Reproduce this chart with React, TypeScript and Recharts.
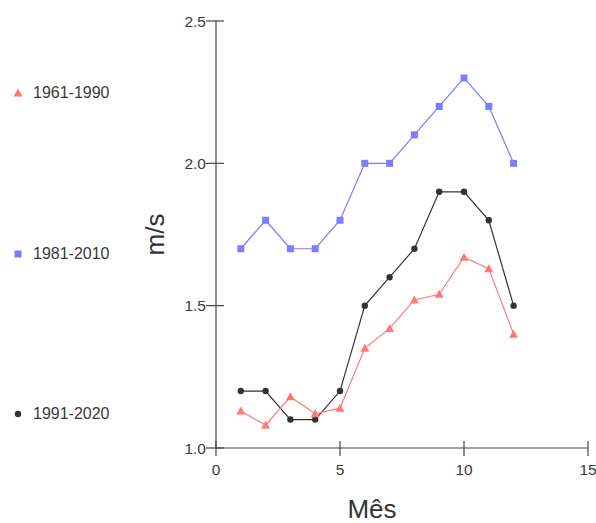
import React from "react";
import { LineChart, Line, XAxis, YAxis } from "recharts";

const months = [1, 2, 3, 4, 5, 6, 7, 8, 9, 10, 11, 12];
const s1961 = [1.13, 1.08, 1.18, 1.12, 1.14, 1.35, 1.42, 1.52, 1.54, 1.67, 1.63, 1.4];
const s1981 = [1.7, 1.8, 1.7, 1.7, 1.8, 2.0, 2.0, 2.1, 2.2, 2.3, 2.2, 2.0];
const s1991 = [1.2, 1.2, 1.1, 1.1, 1.2, 1.5, 1.6, 1.7, 1.9, 1.9, 1.8, 1.5];
const xTicks = [0, 5, 10, 15];
const yTicks = [1.0, 1.5, 2.0, 2.5];

const RED = "#ff7878";
const BLUE = "#7c7cff";
const DARK = "#333333";

const data = months.map((m, i) => ({
  mes: m,
  a: s1961[i],
  b: s1981[i],
  c: s1991[i],
}));

const Triangle = (props: any) => {
  const { cx, cy, index } = props;
  if (cx == null || cy == null) return null;
  return (
    <path
      key={`t-${index}`}
      d={`M${cx},${cy - 4.5} L${cx + 4.5},${cy + 3.5} L${cx - 4.5},${cy + 3.5} Z`}
      fill={RED}
    />
  );
};

const Square = (props: any) => {
  const { cx, cy, index } = props;
  if (cx == null || cy == null) return null;
  return <rect key={`s-${index}`} x={cx - 3.5} y={cy - 3.5} width={7} height={7} fill={BLUE} />;
};

const Circle = (props: any) => {
  const { cx, cy, index } = props;
  if (cx == null || cy == null) return null;
  return <circle key={`c-${index}`} cx={cx} cy={cy} r={3.2} fill={DARK} />;
};

const XTick = (props: any) => {
  const { x, y, payload } = props;
  return (
    <g>
      <line x1={x} x2={x} y1={y - 7} y2={y + 8} stroke="#444" strokeWidth={1.2} />
      <text x={x} y={y + 27} textAnchor="middle" fontSize={15.5} fill="#3a3a3a">
        {payload.value}
      </text>
    </g>
  );
};

const YTick = (props: any) => {
  const { x, y, payload } = props;
  return (
    <g>
      <line x1={x - 10} x2={x + 8} y1={y} y2={y} stroke="#444" strokeWidth={1.2} />
      <text x={x - 10} y={y + 5.5} textAnchor="end" fontSize={15.5} fill="#3a3a3a">
        {Number(payload.value).toFixed(1)}
      </text>
    </g>
  );
};

const legendItems = [
  { label: "1961-1990", top: 93, shape: "tri" },
  { label: "1981-2010", top: 254, shape: "sq" },
  { label: "1991-2020", top: 414, shape: "dot" },
];

export default function App() {
  return (
    <div
      style={{
        position: "absolute",
        left: 0,
        top: 0,
        width: 596,
        height: 523,
        background: "#fff",
        fontFamily: "'Liberation Sans', Arial, sans-serif",
      }}
    >
      <LineChart
        width={596}
        height={523}
        data={data}
        margin={{ top: 21, right: 8, left: 0, bottom: 0 }}
        style={{ fontFamily: "'Liberation Sans', Arial, sans-serif" }}
      >
        <XAxis
          dataKey="mes"
          type="number"
          domain={[0, 15]}
          ticks={xTicks}
          height={75}
          tickSize={0}
          tickMargin={0}
          tickLine={false}
          stroke="#444"
          strokeWidth={1.2}
          tick={<XTick />}
          label={{ value: "Mês", position: "center", dx: -30, dy: 23, fontSize: 26, fill: DARK }}
        />
        <YAxis
          type="number"
          domain={[1, 2.5]}
          ticks={yTicks}
          width={216}
          tickSize={0}
          tickMargin={0}
          tickLine={false}
          stroke="#444"
          strokeWidth={1.2}
          tick={<YTick />}
          label={{ value: "m/s", angle: -90, position: "center", dx: 47, fontSize: 26, fill: DARK }}
        />
        <Line dataKey="b" stroke={BLUE} strokeWidth={1.2} dot={Square} isAnimationActive={false} />
        <Line dataKey="c" stroke={DARK} strokeWidth={1.2} dot={Circle} isAnimationActive={false} />
        <Line dataKey="a" stroke={RED} strokeWidth={1.2} dot={Triangle} isAnimationActive={false} />
      </LineChart>
      {legendItems.map((it) => (
        <div
          key={it.label}
          style={{
            position: "absolute",
            left: 11,
            top: it.top - 10,
            height: 20,
            display: "flex",
            alignItems: "center",
            fontSize: 16,
            color: "#3a3a3a",
          }}
        >
          <svg width={14} height={14} style={{ marginRight: 8 }}>
            {it.shape === "tri" && <path d="M7,2.5 L11.5,10.5 L2.5,10.5 Z" fill={RED} />}
            {it.shape === "sq" && <rect x={3.5} y={3.5} width={7} height={7} fill={BLUE} />}
            {it.shape === "dot" && <circle cx={7} cy={7} r={3.2} fill={DARK} />}
          </svg>
          {it.label}
        </div>
      ))}
    </div>
  );
}
